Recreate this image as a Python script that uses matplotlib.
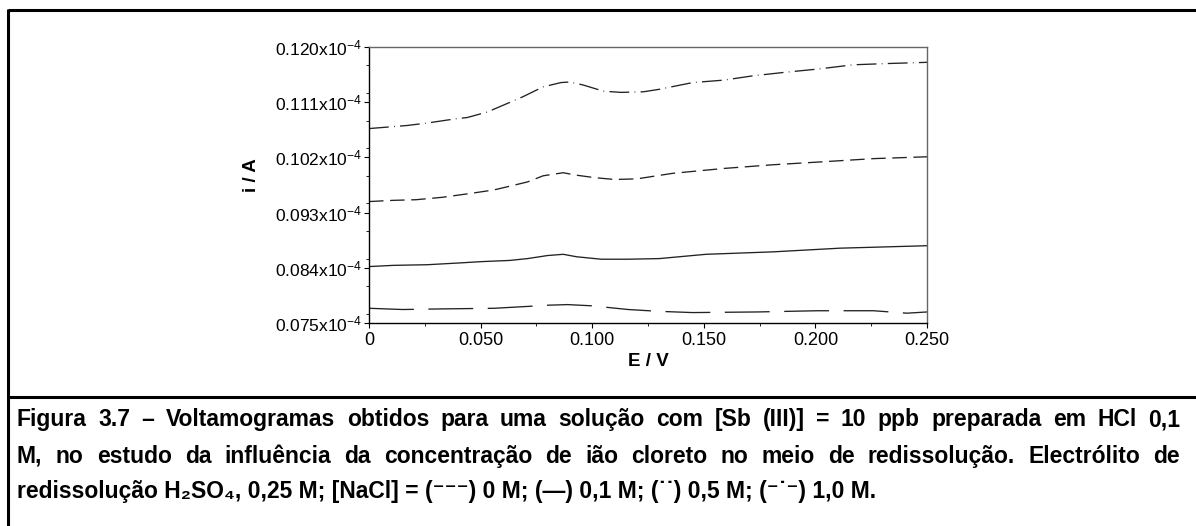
import numpy as np
import matplotlib
matplotlib.use('Agg')
import matplotlib.pyplot as plt
from matplotlib.lines import Line2D
from matplotlib.ticker import FixedLocator, MultipleLocator, FuncFormatter

plt.rcParams['font.family'] = ['Liberation Sans', 'DejaVu Sans']
plt.rcParams['mathtext.fontset'] = 'custom'
plt.rcParams['mathtext.rm'] = 'Liberation Sans'
plt.rcParams['mathtext.it'] = 'Liberation Sans:italic'
plt.rcParams['mathtext.bf'] = 'Liberation Sans:bold'

# currents in units of 1e-4 A, potentials in V
# [NaCl] = 0 M (long dashes)
E_0M = [0.000, 0.015, 0.033, 0.056, 0.071, 0.080, 0.089, 0.100, 0.116, 0.130,
        0.145, 0.174, 0.201, 0.226, 0.241, 0.250]
i_0M = [0.0774, 0.0772, 0.0773, 0.0774, 0.0777, 0.0779, 0.0780, 0.0778, 0.0772, 0.0769,
        0.0767, 0.0768, 0.0770, 0.0770, 0.0766, 0.0768]

# [NaCl] = 0,1 M (solid)
E_01M = [0.000, 0.011, 0.026, 0.041, 0.050, 0.063, 0.071, 0.080, 0.087, 0.093,
         0.104, 0.116, 0.130, 0.151, 0.181, 0.211, 0.250]
i_01M = [0.0842, 0.0844, 0.0845, 0.0848, 0.0850, 0.0852, 0.0855, 0.0860, 0.0862, 0.0858,
         0.0854, 0.0854, 0.0855, 0.0862, 0.0866, 0.0872, 0.0876]

# [NaCl] = 0,5 M (short dashes)
E_05M = [0.000, 0.011, 0.021, 0.033, 0.045, 0.056, 0.063, 0.071, 0.078, 0.087,
         0.093, 0.101, 0.110, 0.120, 0.136, 0.159, 0.181, 0.204, 0.226, 0.250]
i_05M = [0.0948, 0.0950, 0.0951, 0.0955, 0.0961, 0.0967, 0.0973, 0.0980, 0.0990, 0.0995,
         0.0991, 0.0987, 0.0984, 0.0985, 0.0994, 0.1002, 0.1008, 0.1013, 0.1018, 0.1021]

# [NaCl] = 1,0 M (dash-dot)
E_1M = [0.000, 0.017, 0.026, 0.039, 0.044, 0.053, 0.062, 0.069, 0.078, 0.086,
        0.090, 0.096, 0.105, 0.113, 0.123, 0.130, 0.145, 0.159, 0.172, 0.187,
        0.201, 0.217, 0.232, 0.250]
i_1M = [0.1067, 0.1072, 0.1076, 0.1083, 0.1085, 0.1094, 0.1108, 0.1119, 0.1135, 0.1142,
        0.1143, 0.1138, 0.1128, 0.1126, 0.1127, 0.1131, 0.1142, 0.1146, 0.1153, 0.1159,
        0.1164, 0.1171, 0.1173, 0.1175]

y_ticks = [0.075, 0.084, 0.093, 0.102, 0.111, 0.120]
x_ticks = [0, 0.050, 0.100, 0.150, 0.200, 0.250]
x_ticklabels = ['0', '0.050', '0.100', '0.150', '0.200', '0.250']

caption_1 = 'Figura 3.7 – Voltamogramas obtidos para uma solução com [Sb (III)] = 10 ppb preparada em HCl 0,1'
caption_2 = 'M, no estudo da influência da concentração de ião cloreto no meio de redissolução. Electrólito de'
caption_3 = 'redissolução H₂SO₄, 0,25 M; [NaCl] = (⁻⁻⁻) 0 M; (—) 0,1 M; (˙˙) 0,5 M; (⁻˙⁻) 1,0 M.'

W, H = 1196, 526
fig = plt.figure(figsize=(W / 100, H / 100), dpi=100)
ax = fig.add_axes([369 / W, 1 - 323 / H, (927 - 369) / W, (323 - 47) / H])

lc = '#222222'
ax.plot(E_0M, i_0M, color=lc, lw=0.95, dashes=(34, 11))
ax.plot(E_01M, i_01M, color=lc, lw=0.95)
ax.plot(E_05M, i_05M, color=lc, lw=0.95, dashes=(11, 5))
ax.plot(E_1M, i_1M, color=lc, lw=0.95, dashes=(15, 4, 0.6, 4))

ax.set_xlim(0, 0.250)
ax.set_ylim(0.075, 0.120)
ax.xaxis.set_major_locator(FixedLocator(x_ticks))
ax.xaxis.set_minor_locator(MultipleLocator(0.025))
ax.set_xticklabels(x_ticklabels)
ax.yaxis.set_major_locator(FixedLocator(y_ticks))
ax.yaxis.set_minor_locator(MultipleLocator(0.0045))
ax.yaxis.set_major_formatter(FuncFormatter(lambda v, p: f'{v:.3f}x10$^{{-4}}$'))

ax.tick_params(which='major', direction='out', length=3.5, width=0.8, labelsize=12.5, pad=1.5)
ax.tick_params(which='minor', direction='out', length=2, width=0.6)
ax.tick_params(axis='x', which='major', labelsize=13, pad=3)
for s in ['left', 'bottom']:
    ax.spines[s].set_linewidth(1.0)
    ax.spines[s].set_color('black')
for s in ['top', 'right']:
    ax.spines[s].set_linewidth(1.0)
    ax.spines[s].set_color('#666666')

fig.text(251 / W, 1 - 175 / H, 'i / A', rotation=90, fontsize=13.5, fontweight='bold',
         ha='center', va='center')
fig.text(648 / W, 1 - 361 / H, 'E / V', fontsize=13.5, fontweight='bold',
         ha='center', va='center')

# frame around figure and caption
frame_kw = dict(color='black', lw=2.2, transform=fig.transFigure, solid_capstyle='butt')
fig.add_artist(Line2D([8 / W, 1], [1 - 10 / H, 1 - 10 / H], **frame_kw))
fig.add_artist(Line2D([8 / W, 8 / W], [1 - 9 / H, 0], **frame_kw))
fig.add_artist(Line2D([8 / W, 1], [1 - 397 / H, 1 - 397 / H], **frame_kw))

# caption, justified like the source document
cap_kw = dict(fontsize=16.5, fontweight='bold', va='baseline', ha='left')
renderer = fig.canvas.get_renderer()


def justified(line, y_px, x0_px, x1_px):
    words = line.split(' ')
    texts = [fig.text(0, 1 - y_px / H, w, **cap_kw) for w in words]
    widths = [t.get_window_extent(renderer).width for t in texts]
    gap = (x1_px - x0_px - sum(widths)) / (len(words) - 1)
    x = x0_px
    for t, w in zip(texts, widths):
        t.set_x(x / W)
        x += w + gap


justified(caption_1, 426, 17, 1180)
justified(caption_2, 463, 17, 1180)
fig.text(17 / W, 1 - 498 / H, caption_3, **cap_kw)

fig.savefig('out.png', dpi=100)
